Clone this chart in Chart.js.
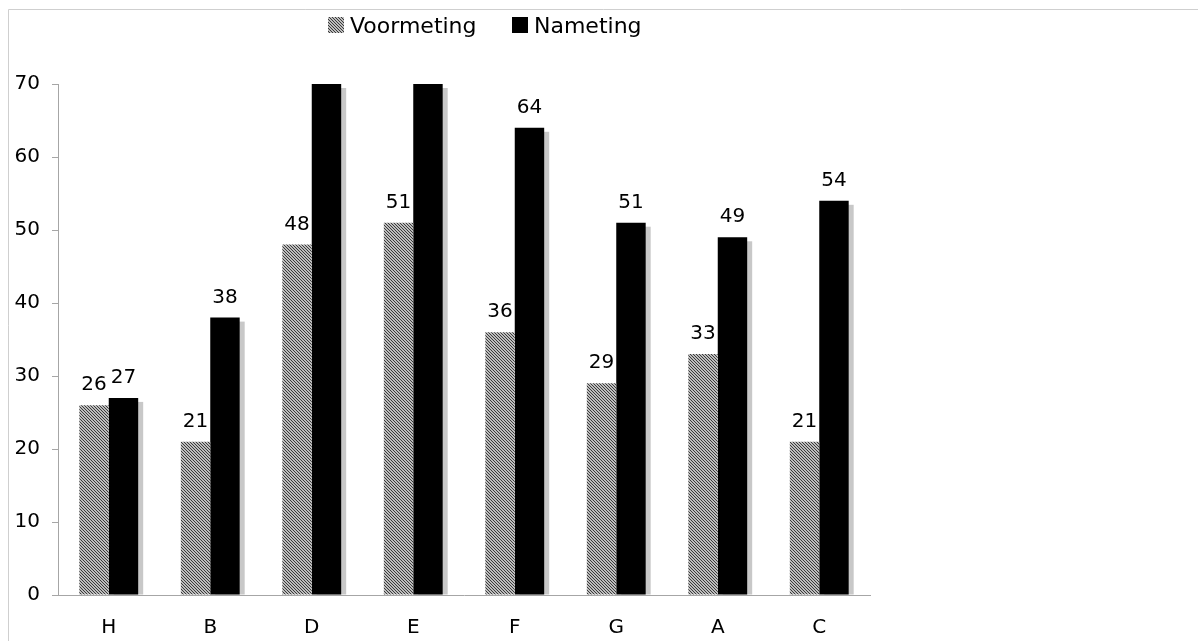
<!DOCTYPE html>
<html>
<head>
<meta charset="utf-8">
<script src="https://cdn.jsdelivr.net/npm/chart.js@4.4.1/dist/chart.umd.min.js"></script>
<style>
  html, body { margin: 0; padding: 0; background: #fff; }
  canvas { display: block; }
</style>
</head>
<body>
<canvas id="c" width="1198" height="641"></canvas>
<script>
// Scores per group, before (Voormeting) and after (Nameting)
const categories = ['H', 'B', 'D', 'E', 'F', 'G', 'A', 'C'];
const voormeting = [26, 21, 48, 51, 36, 29, 33, 21];
const nameting = [27, 38, 76, 74, 64, 51, 49, 54];
const seriesNames = ['Voormeting', 'Nameting'];
const yTicks = [0, 10, 20, 30, 40, 50, 60, 70];

const FONT = "'DejaVu Sans', Verdana, sans-serif";
const canvas = document.getElementById('c');
const ctx = canvas.getContext('2d');

// Fine diagonal hatch used for the Voormeting bars
function makeHatch() {
  const n = 3;
  const p = document.createElement('canvas');
  p.width = n; p.height = n;
  const g = p.getContext('2d');
  g.fillStyle = '#bdbdbd';
  g.fillRect(0, 0, n, n);
  g.fillStyle = '#3a3a3a';
  for (let y = 0; y < n; y++)
    for (let x = 0; x < n; x++)
      if ((((x - y) % n) + n) % n === 0) g.fillRect(x, y, 1, 1);
  return ctx.createPattern(p, 'repeat');
}
const hatch = makeHatch();

const yMax = yTicks[yTicks.length - 1];

// Outer frame, legend, bar shadows and value labels
const decorations = {
  id: 'decorations',
  beforeDraw(chart) {
    const c = chart.ctx;
    c.save();
    c.strokeStyle = '#cfcfcf';
    c.lineWidth = 1;
    c.beginPath();
    c.moveTo(8.5, chart.height);
    c.lineTo(8.5, 9.5);
    c.lineTo(chart.width, 9.5);
    c.stroke();

    // legend
    c.font = '22px ' + FONT;
    c.textBaseline = 'alphabetic';
    c.textAlign = 'left';
    const items = [
      { x: 328, fill: hatch, label: seriesNames[0] },
      { x: 512, fill: '#000', label: seriesNames[1] }
    ];
    items.forEach(it => {
      c.fillStyle = it.fill;
      c.fillRect(it.x, 17, 16, 16);
      c.fillStyle = '#000';
      c.fillText(it.label, it.x + 22, 33);
    });
    c.restore();
  },
  beforeDatasetsDraw(chart) {
    const c = chart.ctx;
    const a = chart.chartArea;
    c.save();
    c.beginPath();
    c.rect(a.left, a.top, a.right - a.left + 10, a.bottom - a.top);
    c.clip();
    c.fillStyle = '#c8c8c8';
    const meta = chart.getDatasetMeta(1);
    meta.data.forEach(el => {
      const top = Math.max(el.y, a.top) + 4;
      const left = el.x - el.width / 2 + 5;
      c.fillRect(left, top, el.width, el.base - top);
    });
    c.restore();
  },
  afterDatasetsDraw(chart) {
    const c = chart.ctx;
    c.save();
    c.font = '20px ' + FONT;
    c.fillStyle = '#000';
    c.textAlign = 'center';
    c.textBaseline = 'alphabetic';
    chart.data.datasets.forEach((ds, di) => {
      const meta = chart.getDatasetMeta(di);
      meta.data.forEach((el, i) => {
        const v = ds.data[i];
        if (v > yMax) return;
        c.fillText(String(v), el.x, el.y - 15);
      });
    });
    c.restore();
  }
};

new Chart(canvas, {
  type: 'bar',
  data: {
    labels: categories,
    datasets: [
      { label: seriesNames[0], data: voormeting, backgroundColor: hatch, borderWidth: 0 },
      { label: seriesNames[1], data: nameting, backgroundColor: '#000', borderWidth: 0 }
    ]
  },
  options: {
    responsive: false,
    animation: false,
    devicePixelRatio: 1,
    categoryPercentage: 0.58,
    barPercentage: 1,
    layout: { padding: { left: 0, right: 328, top: 84, bottom: 0 } },
    plugins: {
      legend: { display: false },
      tooltip: { enabled: false }
    },
    scales: {
      x: {
        grid: { display: false, drawTicks: false },
        border: { display: true, color: '#a6a6a6', width: 1 },
        ticks: { color: '#000', font: { family: FONT, size: 20 }, padding: 21 },
        afterFit(s) { s.height = 46; }
      },
      y: {
        min: 0,
        max: yMax,
        afterBuildTicks(s) { s.ticks = yTicks.map(v => ({ value: v })); },
        grid: { drawOnChartArea: false, drawTicks: true, tickLength: 6, color: '#a6a6a6' },
        border: { display: true, color: '#a6a6a6', width: 1 },
        ticks: { color: '#000', font: { family: FONT, size: 20 }, padding: 12 },
        afterFit(s) { s.width = 58; }
      }
    }
  },
  plugins: [decorations]
});
</script>
</body>
</html>
